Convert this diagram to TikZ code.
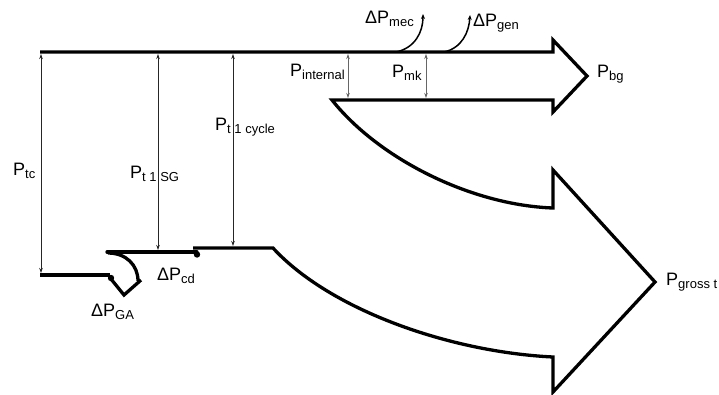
\documentclass[tikz,border=0pt]{standalone}
\usepackage{fontspec}
\setmainfont{Liberation Sans}
\usetikzlibrary{arrows.meta}
\newcommand\PSub[2]{#1\raisebox{-3pt}{\fontsize{13}{13}\selectfont #2}}
\begin{document}
\begin{tikzpicture}[x=1pt,y=-1pt,
  thickline/.style={line width=3.3pt, line join=miter},
  meas/.style={line width=0.8pt, black!85, {Stealth[length=5pt,width=3.5pt]}-{Stealth[length=5pt,width=3.5pt]}},
  measg/.style={meas, black!60},
  loss/.style={line width=1.5pt, -{Stealth[length=5pt,width=4pt]}},
  lbl/.style={inner sep=0pt, anchor=base west, font=\fontsize{18}{18}\selectfont}]
\useasboundingbox (0,0) rectangle (719,394);
% main outline
\draw[thickline] (40,52) -- (553,52) -- (553,40) -- (587,76) -- (553,112) -- (553,100) -- (332,100)
  .. controls (378,158) and (470,205) .. (553,208) -- (553,170) -- (655,282) -- (553,392) -- (553,357)
  .. controls (450,352) and (330,310) .. (273,248) -- (193,248);
\draw[thickline, line cap=round] (107,252) -- (197,252);
\fill (197,254.5) circle (3.2);
\draw[thickline] (40,275) -- (110,275);
\fill (111,278) circle (3.2);
\draw[thickline] (111,279) -- (124,295) -- (141,280);
\draw[thickline] (108,253) .. controls (126,253) and (138,265) .. (138,281);
% measurement coordinates
\coordinate (tcT) at (41,54);   \coordinate (tcB) at (41,273);
\coordinate (sgT) at (158,54);  \coordinate (sgB) at (158,250);
\coordinate (cyT) at (233,54);  \coordinate (cyB) at (233,246);
\coordinate (inT) at (348,54);  \coordinate (inB) at (348,98);
\coordinate (mkT) at (426,54);  \coordinate (mkB) at (426,98);
\draw[meas] (tcT) -- (tcB);
\draw[meas] (sgT) -- (sgB);
\draw[meas] (cyT) -- (cyB);
\draw[measg] (inT) -- (inB);
\draw[measg] (mkT) -- (mkB);
% losses
\coordinate (mecA) at (396,52); \coordinate (mecB) at (423,14);
\coordinate (genA) at (444,52); \coordinate (genB) at (470,15);
\draw[loss] (mecA) .. controls (415,48) and (423,32) .. (mecB);
\draw[loss] (genA) .. controls (462,48) and (469,32) .. (genB);
% labels
\node[lbl] (Ptc) at (13,175) {\PSub{P}{tc}};
\node[lbl] (Psg) at (130,178) {\PSub{P}{t 1 SG}};
\node[lbl] (Pcy) at (215,130) {\PSub{P}{t 1 cycle}};
\node[lbl] (Pin) at (290,76) {\PSub{P}{internal}};
\node[lbl] (Pmk) at (392,77) {\PSub{P}{mk}};
\node[lbl] (Pbg) at (597,77) {\PSub{P}{bg}};
\node[lbl] (Pmec) at (365,23) {\PSub{ΔP}{mec}};
\node[lbl] (Pgen) at (473,26) {\PSub{ΔP}{gen}};
\node[lbl] (Pgr) at (666,285) {\PSub{P}{gross t}};
\node[lbl] (Pcd) at (157,280) {\PSub{ΔP}{cd}};
\node[lbl] (Pga) at (91,316) {\PSub{ΔP}{GA}};
\end{tikzpicture}
\end{document}
